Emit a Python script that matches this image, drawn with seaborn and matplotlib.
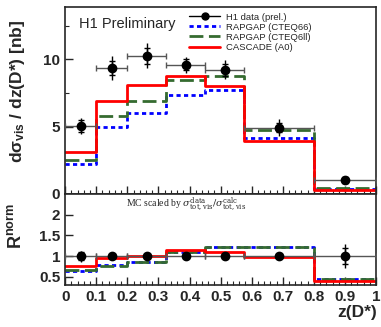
import numpy as np
import pandas as pd
import matplotlib
matplotlib.use('Agg')
import matplotlib.pyplot as plt
import seaborn as sns
from matplotlib.ticker import MultipleLocator

## data
edges = [0.0, 0.1, 0.2, 0.325, 0.45, 0.575, 0.8, 1.0]
x_data = [0.05, 0.151, 0.264, 0.388, 0.513, 0.689, 0.9]
y_data = [5.07, 9.35, 10.27, 9.6, 9.23, 4.93, 1.04]
err_tot = [0.6, 0.9, 0.95, 0.6, 0.7, 0.6, 0.3]
err_stat = [0.45, 0.55, 0.6, 0.4, 0.45, 0.35, 0.2]

cteq66 = [2.2, 4.95, 5.99, 7.36, 7.69, 4.15, 0.35]
cteq6ll = [2.54, 5.82, 6.94, 8.43, 8.73, 4.72, 0.42]
cascade = [3.13, 6.94, 8.06, 8.73, 8.0, 3.9, 0.3]

r_cteq66 = [0.65, 0.78, 0.87, 1.09, 1.22, 1.22, 0.44]
r_cteq6ll = [0.66, 0.77, 0.87, 1.09, 1.22, 1.22, 0.44]
r_cascade = [0.77, 0.95, 1.0, 1.14, 1.10, 0.99, 0.39]
r_err_tot = [0.13, 0.06, 0.05, 0.05, 0.05, 0.07, 0.29]
r_err_stat = [0.09, 0.04, 0.03, 0.03, 0.03, 0.05, 0.2]

## config
sns.set_style('ticks')
plt.rcParams['font.family'] = ['Liberation Sans', 'DejaVu Sans']
plt.rcParams['mathtext.fontset'] = 'custom'
plt.rcParams['mathtext.rm'] = 'Liberation Sans'
plt.rcParams['mathtext.bf'] = 'Liberation Sans:bold'
plt.rcParams['mathtext.it'] = 'Liberation Sans:italic'

fig = plt.figure(figsize=(3.81, 3.27), dpi=100)
ax1 = fig.add_axes([0.171, 0.407, 0.816, 0.572])
ax2 = fig.add_axes([0.171, 0.128, 0.816, 0.279])

styles = [
    ('RAPGAP (CTEQ66)', '#0000ff', (0, (1.5, 1.2))),
    ('RAPGAP (CTEQ6ll)', '#356b30', (0, (5, 2))),
    ('CASCADE (A0)', '#ff0000', '-'),
]


def steps(vals):
    return pd.DataFrame({'x': edges, 'y': list(vals) + [vals[-1]]})


def draw_data(ax, y, et, es):
    xlo = [x - e for x, e in zip(x_data, edges[:-1])]
    xhi = [e - x for x, e in zip(x_data, edges[1:])]
    ax.errorbar(x_data, y, xerr=[xlo, xhi], fmt='none', ecolor='#555555',
                elinewidth=1, capsize=2.5, zorder=5)
    ax.errorbar(x_data, y, yerr=et, fmt='none', ecolor='black',
                elinewidth=1, capsize=0, zorder=6)
    ax.errorbar(x_data, y, yerr=es, fmt='none', ecolor='black',
                elinewidth=1, capsize=2, zorder=6)
    ax.plot(x_data, y, 'o', color='black', ms=6, zorder=7)


## top panel
for (lab, col, ls), vals in zip(styles, [cteq66, cteq6ll, cascade]):
    sns.lineplot(data=steps(vals), x='x', y='y', drawstyle='steps-post',
                 color=col, linestyle=ls, lw=2, ax=ax1, label=lab, legend=False)
draw_data(ax1, y_data, err_tot, err_stat)

## bottom panel
for (lab, col, ls), vals in zip(styles, [r_cteq66, r_cteq6ll, r_cascade]):
    sns.lineplot(data=steps(vals), x='x', y='y', drawstyle='steps-post',
                 color=col, linestyle=ls, lw=2, ax=ax2, legend=False)
draw_data(ax2, [1.0] * len(x_data), r_err_tot, r_err_stat)

## axes
for ax in (ax1, ax2):
    ax.set_xlim(0, 1)
    ax.xaxis.set_major_locator(MultipleLocator(0.1))
    ax.xaxis.set_minor_locator(MultipleLocator(0.02))
    ax.tick_params(direction='in', which='both', top=False, right=False)
    ax.tick_params(which='major', length=6, width=1)
    ax.tick_params(which='minor', length=3, width=0.8)
    for s in ax.spines.values():
        s.set_linewidth(1.2)
        s.set_visible(True)
    ax.set_xlabel('')
    ax.set_ylabel('')

ax1.set_ylim(0, 13.9)
ax1.yaxis.set_minor_locator(MultipleLocator(2.5))
ax1.tick_params(labelbottom=False)
ax1.set_yticks([0, 5, 10])
ax1.set_yticklabels(['0', '5', '10'], fontweight='bold', fontsize=11)

ax2.set_ylim(0.3, 2.5)
ax2.set_yticks([0.5, 1, 1.5, 2])
ax2.set_yticklabels(['0.5', '1', '1.5', '2'], fontweight='bold', fontsize=11)
ax2.set_xticks(np.arange(0, 1.01, 0.1))
ax2.set_xticklabels(['0', '0.1', '0.2', '0.3', '0.4', '0.5', '0.6', '0.7', '0.8', '0.9', '1'],
                    fontweight='bold', fontsize=11)
ax2.xaxis.set_minor_locator(MultipleLocator(0.02))

## texts
ax1.text(0.045, 0.91, 'H1 Preliminary', transform=ax1.transAxes, fontsize=10.5,
         va='center', ha='left')
fig.text(0.045, 0.72, r'd$\mathbf{\sigma_{vis}}$ / dz(D*) [nb]', rotation=90,
         fontsize=12.5, fontweight='bold', ha='center', va='center')
fig.text(0.045, 0.31, r'R$^{\mathbf{norm}}$', rotation=90, fontsize=13,
         fontweight='bold', ha='center', va='center')
fig.text(0.99, 0.045, 'z(D*)', fontsize=12.5, fontweight='bold', ha='right',
         va='center')
ax2.text(0.39, 0.89,
         r'MC scaled by $\sigma^{\rm data}_{\rm tot,vis}/\sigma^{\rm calc}_{\rm tot,vis}$',
         transform=ax2.transAxes, fontsize=7, family='Liberation Serif',
         ha='center', va='center', math_fontfamily='dejavuserif')

## legend
h_data = plt.Line2D([], [], color='black', marker='o', ms=5, lw=1)
handles, labels = ax1.get_legend_handles_labels()
ax1.legend([h_data] + handles, ['H1 data (prel.)'] + labels, loc='upper left',
           bbox_to_anchor=(0.38, 1.0), frameon=False, fontsize=6.8,
           handlelength=3.3, handletextpad=0.6, labelspacing=0.12,
           borderaxespad=0.2)

fig.savefig('out.png', dpi=100)
